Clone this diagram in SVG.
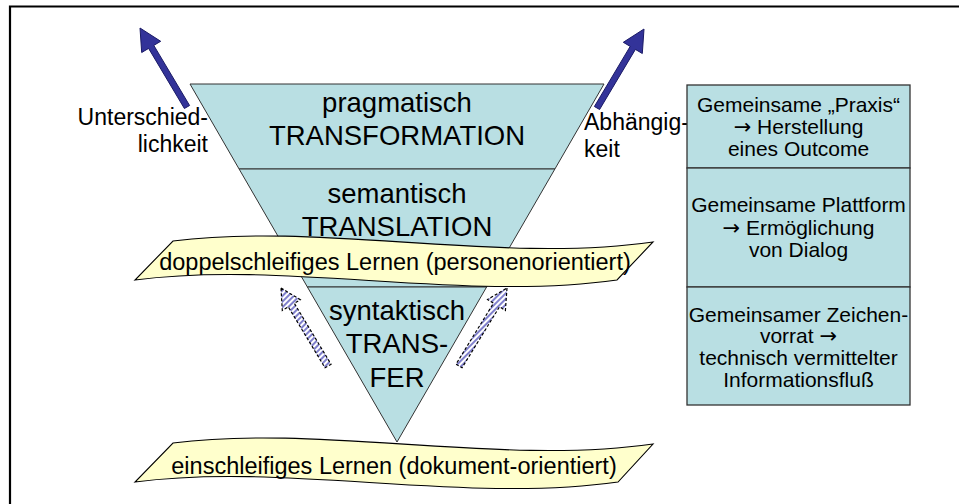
<svg xmlns="http://www.w3.org/2000/svg" width="959" height="504" viewBox="0 0 959 504">
<defs>
<pattern id="hatch" width="4" height="4" patternUnits="userSpaceOnUse" patternTransform="rotate(45)">
<rect width="4" height="4" fill="#ffffff"/>
<rect width="2" height="4" fill="#8080cc"/>
</pattern>
</defs>
<style>
text{font-family:"Liberation Sans",Arial,sans-serif;fill:#000}
.lvl{fill:#b9dfe3;stroke:#333;stroke-width:1}
.big{font-size:27.5px;text-anchor:middle}
.side{font-size:23px}
.rib{fill:#ffffcc;stroke:#000;stroke-width:1.1}
.ribt{font-size:23.5px;text-anchor:middle}
.cell{fill:#b9dfe3;stroke:#333;stroke-width:1.3}
.ct{font-size:21px;text-anchor:middle}
.arr{font-family:"DejaVu Sans",sans-serif}
.solid{fill:#333399;stroke:#1a1a66;stroke-width:1}
.hatched{fill:url(#hatch);stroke:#000;stroke-width:1.2;stroke-dasharray:3 2}
</style>
<rect width="959" height="504" fill="#fff"/>
<path id="frame" d="M10,506 V6.5 H962" fill="none" stroke="#000" stroke-width="2.2"/>

<g id="funnel">
<g id="level-pragmatisch">
<polygon class="lvl" points="190,84 604,84 554.9,169 239.1,169"/>
<text class="big" x="397" y="112">pragmatisch</text>
<text class="big" x="397" y="145">TRANSFORMATION</text>
</g>
<g id="level-semantisch">
<polygon class="lvl" points="239.1,169 554.9,169 486.6,287 307.4,287"/>
<text class="big" x="397" y="203">semantisch</text>
<text class="big" x="397" y="236">TRANSLATION</text>
</g>
<g id="level-syntaktisch">
<polygon class="lvl" points="307.4,287 486.6,287 397,442"/>
<text class="big" x="397" y="320">syntaktisch</text>
<text class="big" x="397" y="353">TRANS-</text>
<text class="big" x="397" y="387">FER</text>
</g>
</g>

<g id="label-unterschiedlichkeit">
<text class="side" x="208" y="125" text-anchor="end">Unterschied-</text>
<text class="side" x="208" y="152" text-anchor="end">lichkeit</text>
</g>
<g id="label-abhaengigkeit">
<text class="side" x="584" y="130">Abhängig-</text>
<text class="side" x="584" y="157">keit</text>
</g>

<g id="connectors">
<polygon class="solid" points="140,28 160.7,41.3 153.8,45.4 189.6,105.5 184.4,108.5 148.6,48.4 141.7,52.5"/>
<polygon class="solid" points="644,29 642.3,53.5 635.4,49.4 599.6,109.5 594.4,106.5 630.2,46.4 623.3,42.3"/>
<polygon class="hatched" points="281,288 300.3,299.7 294.3,303.3 331,364.2 325,367.8 288.3,306.9 282.3,310.5"/>
<polygon class="hatched" points="507,288 505.4,310.5 499.5,306.8 462,367.8 456,364.2 493.5,303.2 487.6,299.5"/>
</g>

<g id="ribbon-doppelschleifig">
<path class="rib" d="M173,241 C320,222 500,264 653,242 L617,280 C463,302 283,260 135,280 Z"/>
<text class="ribt" x="395" y="270">doppelschleifiges Lernen (personenorientiert)</text>
</g>
<g id="ribbon-einschleifig">
<path class="rib" d="M173,443 C320,424 500,466 653,444 L618,482 C464,504 283,462 135,482 Z"/>
<text class="ribt" x="394" y="474">einschleifiges Lernen (dokument-orientiert)</text>
</g>

<g id="table">
<g id="row-praxis">
<rect class="cell" x="687" y="85" width="223" height="83"/>
<text class="ct" x="798.5" y="112">Gemeinsame „Praxis“</text>
<text class="ct" x="798.5" y="134"><tspan class="arr">→</tspan> Herstellung</text>
<text class="ct" x="798.5" y="156">eines Outcome</text>
</g>
<g id="row-plattform">
<rect class="cell" x="687" y="168" width="223" height="119"/>
<text class="ct" x="798.5" y="212">Gemeinsame Plattform</text>
<text class="ct" x="798.5" y="235"><tspan class="arr">→</tspan> Ermöglichung</text>
<text class="ct" x="798.5" y="257">von Dialog</text>
</g>
<g id="row-zeichenvorrat">
<rect class="cell" x="687" y="287" width="223" height="118"/>
<text class="ct" x="798.5" y="322">Gemeinsamer Zeichen-</text>
<text class="ct" x="798.5" y="343">vorrat <tspan class="arr">→</tspan></text>
<text class="ct" x="798.5" y="365">technisch vermittelter</text>
<text class="ct" x="798.5" y="387">Informationsfluß</text>
</g>
</g>
</svg>
